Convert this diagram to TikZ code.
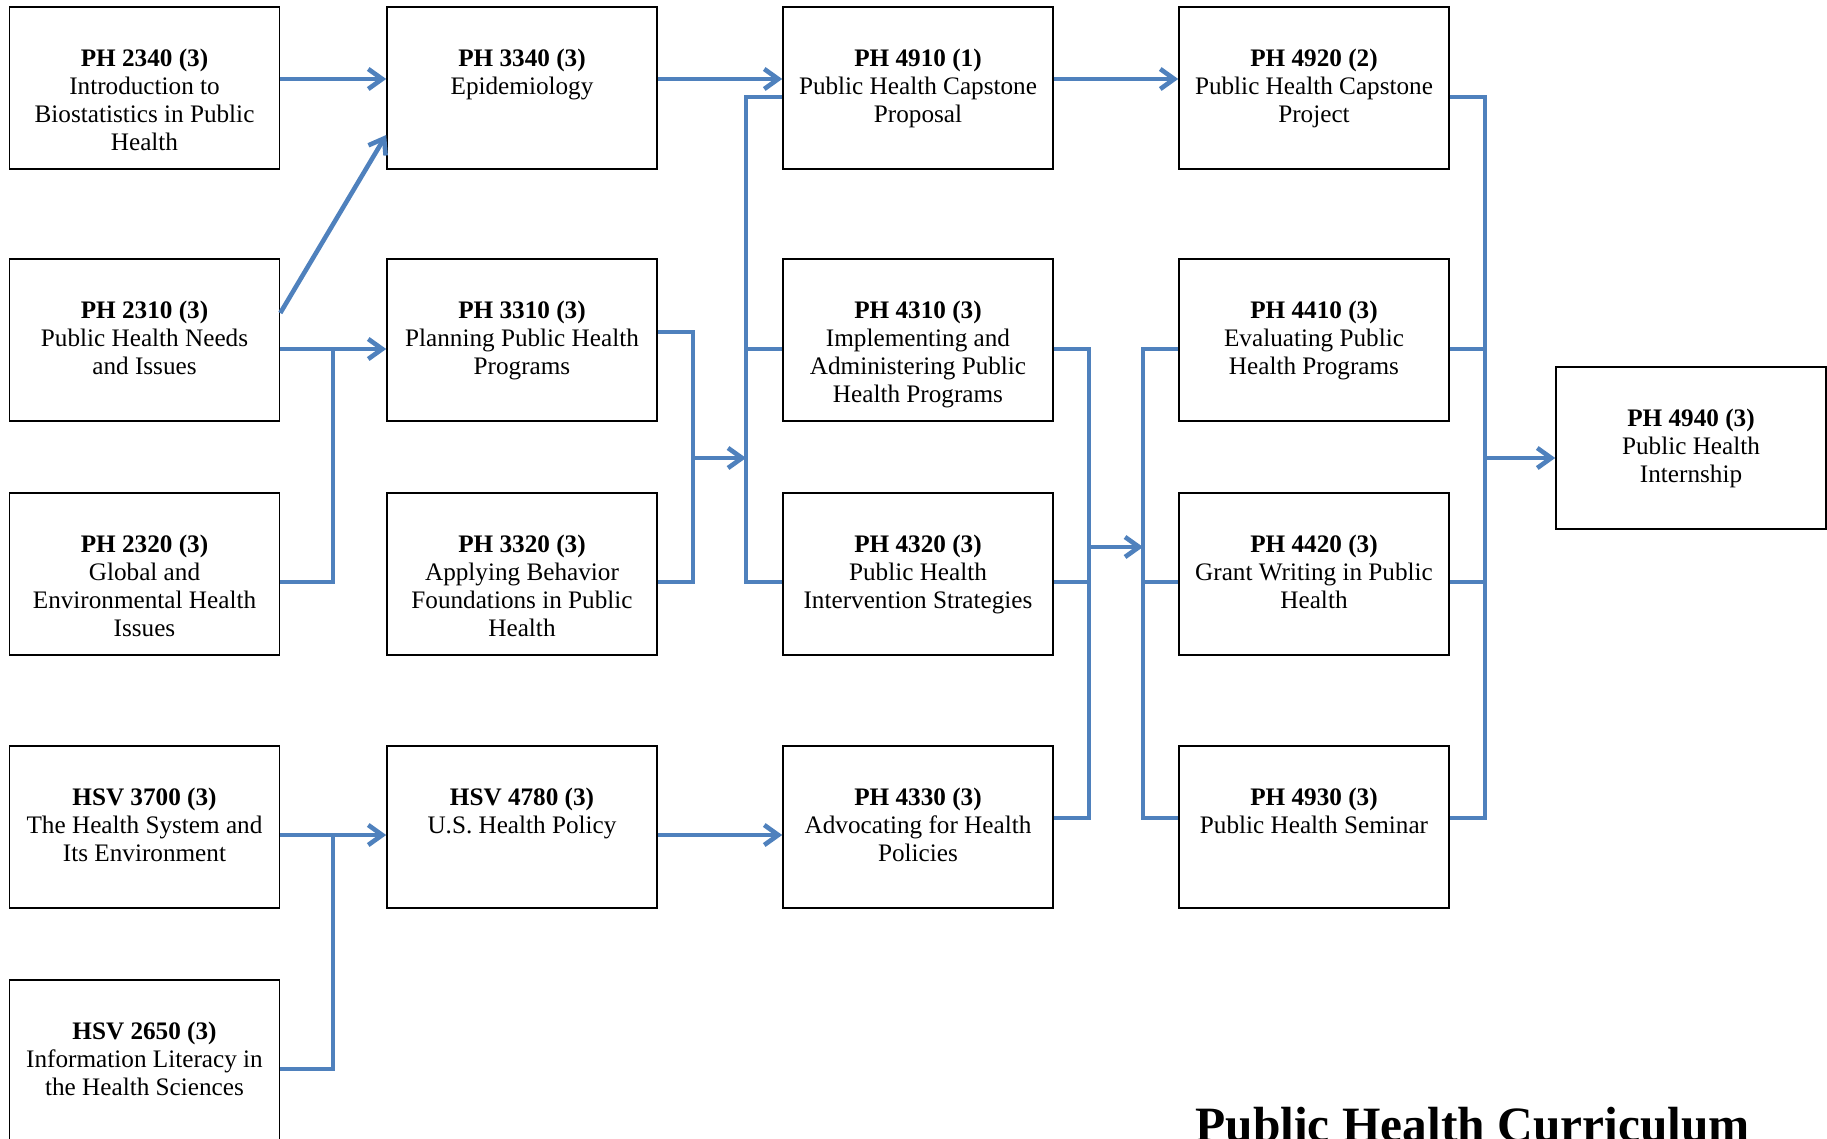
\documentclass[tikz,border=0pt]{standalone}
\usepackage{fontspec}
\setmainfont{Liberation Serif}
\usetikzlibrary{arrows.meta}
\definecolor{linkblue}{RGB}{79,129,189}
\newcommand\course[5]{%
  \node[box] (#1) at (#2,#3) {};
  \node[txt] (#1t) at ([yshift=-20pt]#1.north) {\strut\textbf{#4}\\#5};
}
\begin{document}
\begin{tikzpicture}[x=0.5pt,y=-0.5pt,
  box/.style={draw=black, line width=0.8pt, minimum width=135pt, minimum height=81pt, inner sep=0pt, fill=white},
  txt/.style={anchor=north, align=center, inner sep=0pt, font=\fontsize{12.6}{14.1}\selectfont},
  link/.style={draw=linkblue, line width=2.3pt},
  arr/.style={link, -{Straight Barb[length=7pt,width=10pt]}}]
\useasboundingbox (0,0) rectangle (1827,1139);

% column 1
\course{ph2340}{144.5}{88}{PH 2340 (3)}{Introduction to\\Biostatistics in Public\\Health}
\course{ph2310}{144.5}{340}{PH 2310 (3)}{Public Health Needs\\and Issues}
\course{ph2320}{144.5}{574}{PH 2320 (3)}{Global and\\Environmental Health\\Issues}
\course{hsv3700}{144.5}{827}{HSV 3700 (3)}{The Health System and\\Its Environment}
\course{hsv2650}{144.5}{1061}{HSV 2650 (3)}{Information Literacy in\\the Health Sciences}
% column 2
\course{ph3340}{522}{88}{PH 3340 (3)}{Epidemiology}
\course{ph3310}{522}{340}{PH 3310 (3)}{Planning Public Health\\Programs}
\course{ph3320}{522}{574}{PH 3320 (3)}{Applying Behavior\\Foundations in Public\\Health}
\course{hsv4780}{522}{827}{HSV 4780 (3)}{U.S. Health Policy}
% column 3
\course{ph4910}{918}{88}{PH 4910 (1)}{Public Health Capstone\\Proposal}
\course{ph4310}{918}{340}{PH 4310 (3)}{Implementing and\\Administering Public\\Health Programs}
\course{ph4320}{918}{574}{PH 4320 (3)}{Public Health\\Intervention Strategies}
\course{ph4330}{918}{827}{PH 4330 (3)}{Advocating for Health\\Policies}
% column 4
\course{ph4920}{1314}{88}{PH 4920 (2)}{Public Health Capstone\\Project}
\course{ph4410}{1314}{340}{PH 4410 (3)}{Evaluating Public\\Health Programs}
\course{ph4420}{1314}{574}{PH 4420 (3)}{Grant Writing in Public\\Health}
\course{ph4930}{1314}{827}{PH 4930 (3)}{Public Health Seminar}
% column 5
\course{ph4940}{1691}{448}{PH 4940 (3)}{Public Health\\Internship}

% junction points
\coordinate (jA) at (333,349);
\coordinate (jB) at (333,835);
\coordinate (jC) at (693,458);
\coordinate (bD) at (746,458);
\coordinate (jE) at (1089,547);
\coordinate (bF) at (1143,547);
\coordinate (jG) at (1485,458);

% row 1 arrows
\draw[arr] ([yshift=4.5pt]ph2340.east) -- ([yshift=4.5pt]ph3340.west);
\draw[arr] ([yshift=4.5pt]ph3340.east) -- ([yshift=4.5pt]ph4910.west);
\draw[arr] ([yshift=4.5pt]ph4910.east) -- ([yshift=4.5pt]ph4920.west);
\draw[arr] ([yshift=13.5pt]ph2310.east) -- ([yshift=-23.5pt]ph3340.west);

% column 1 -> 2
\draw[arr] ([yshift=-4.5pt]ph2310.east) -- ([yshift=-4.5pt]ph3310.west);
\draw[link] ([yshift=-4pt]ph2320.east) -| (jA);
\draw[arr] ([yshift=-4pt]hsv3700.east) -- ([yshift=-4pt]hsv4780.west);
\draw[link] ([yshift=-4pt]hsv2650.east) -| (jB);

% column 2 -> 3
\draw[link] ([yshift=4pt]ph3310.east) -| (jC) |- ([yshift=-4pt]ph3320.east);
\draw[arr] (jC) -- (bD);
\draw[link] ([yshift=-4.5pt]ph4910.west) -| (bD) |- ([yshift=-4pt]ph4320.west);
\draw[link] ([yshift=-4.5pt]ph4310.west) -| (bD);
\draw[arr] ([yshift=-4pt]hsv4780.east) -- ([yshift=-4pt]ph4330.west);

% column 3 -> 4
\draw[link] ([yshift=-4.5pt]ph4310.east) -| (jE) |- ([yshift=4.5pt]ph4330.east);
\draw[link] ([yshift=-4pt]ph4320.east) -| (jE);
\draw[arr] (jE) -- (bF);
\draw[link] ([yshift=-4.5pt]ph4410.west) -| (bF) |- ([yshift=4.5pt]ph4930.west);
\draw[link] ([yshift=-4pt]ph4420.west) -| (bF);

% column 4 -> 5
\draw[link] ([yshift=-4.5pt]ph4920.east) -| (jG) |- ([yshift=4.5pt]ph4930.east);
\draw[link] ([yshift=-4.5pt]ph4410.east) -| (jG);
\draw[link] ([yshift=-4pt]ph4420.east) -| (jG);
\draw[arr] (jG) -- ([yshift=-5pt]ph4940.west);

% title
\node[anchor=base west, inner sep=0pt, font=\bfseries\fontsize{24.7}{28}\selectfont] (title) at (1195,1141) {Public Health Curriculum};
\end{tikzpicture}
\end{document}
